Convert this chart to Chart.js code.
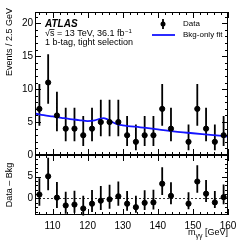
<!DOCTYPE html>
<html>
<head>
<meta charset="utf-8">
<script src="https://cdn.jsdelivr.net/npm/chart.js@4.4.1/dist/chart.umd.min.js"></script>
<style>
  body { margin: 0; background: #fff; }
  #wrap { position: relative; width: 240px; height: 240px; }
  canvas { position: absolute; left: 0; top: 0; }
</style>
</head>
<body>
<div id="wrap">
  <canvas id="main" width="240" height="240"></canvas>
  <canvas id="ratio" width="240" height="240"></canvas>
</div>
<script>
// m_yy bin centres (GeV), 2.5 GeV bins
const binCenters = [106.25, 108.75, 111.25, 113.75, 116.25, 118.75, 121.25, 123.75, 126.25, 128.75, 131.25,
                    133.75, 136.25, 138.75, 141.25, 143.75, 146.25, 148.75, 151.25, 153.75, 156.25, 158.75];
// observed events per bin (empty bin not drawn)
const events  = [7, 11, 6, 4, 4, 3, 4, 5, 5, 5, 3, 2, 3, 3, 7, 4, null, 2, 7, 4, 2, 3];
// poisson error bar ends
const errLow  = [4.42, 7.77, 3.62, 2.09, 2.09, 1.37, 2.09, 2.84, 2.84, 2.84, 1.37, 0.71, 1.37, 1.37, 4.42, 2.09, null, 0.71, 4.42, 2.09, 0.71, 1.37];
const errHigh = [10.77, 15.28, 9.58, 7.16, 7.16, 5.92, 7.16, 8.38, 8.38, 8.38, 5.92, 4.64, 5.92, 5.92, 10.77, 7.16, null, 4.64, 10.77, 7.16, 4.64, 5.92];
// Data - Bkg
const residuals = [0.9, 5.1, 0.2, -1.6, -1.4, -2.3, -1.2, -0.5, -0.2, 0.5, -1.2, -2.0, -1.0, -0.9, 3.4, 0.6, null, -1.2, 3.9, 1.1, -0.9, 0.3];
// bkg-only fit curve
const fitMass   = [105, 107.5, 110, 112.5, 115, 117.5, 120, 122, 123.5, 124.5, 125.5, 127, 128.5, 130, 135, 140, 145, 150, 155, 160];
const fitValues = [6.3, 6.05, 5.85, 5.65, 5.45, 5.3, 5.15, 5.25, 5.5, 5.6, 5.45, 5.0, 4.65, 4.5, 4.2, 3.9, 3.55, 3.3, 3.05, 2.8];

const xTicks = [110, 120, 130, 140, 150, 160];
const yTicksMain = [0, 5, 10, 15, 20];
const yTicksRatio = [0, 5];

const FONT = '"Liberation Sans", Arial, sans-serif';

function frameAndTicks(chart, cfg) {
  const { ctx, chartArea: a, scales: { x, y } } = chart;
  ctx.save();
  ctx.strokeStyle = '#000';
  ctx.lineWidth = 1;
  ctx.strokeRect(a.left + 0.5, a.top + 0.5, a.right - a.left - 1, a.bottom - a.top - 1);

  // x ticks, minor every 2 GeV
  ctx.beginPath();
  for (let v = 106; v <= 160; v += 2) {
    const px = Math.round(x.getPixelForValue(v)) + 0.5;
    const len = v % 10 === 0 ? 6 : 3;
    ctx.moveTo(px, a.bottom); ctx.lineTo(px, a.bottom - len);
    ctx.moveTo(px, a.top); ctx.lineTo(px, a.top + len);
  }
  // y ticks, minor every 1
  for (let v = Math.ceil(y.min); v <= y.max; v += 1) {
    const py = Math.round(y.getPixelForValue(v)) + 0.5;
    const len = v % 5 === 0 ? 6 : 3;
    ctx.moveTo(a.left, py); ctx.lineTo(a.left + len, py);
    ctx.moveTo(a.right, py); ctx.lineTo(a.right - len, py);
  }
  ctx.stroke();

  ctx.fillStyle = '#000';
  ctx.font = '10px ' + FONT;
  ctx.textAlign = 'right';
  ctx.textBaseline = 'middle';
  cfg.yTicks.forEach(v => ctx.fillText(String(v), a.left - 2, y.getPixelForValue(v)));
  ctx.restore();
}

function drawErrorBars(chart, centers, lo, hi) {
  const { ctx, scales: { x, y } } = chart;
  ctx.save();
  ctx.strokeStyle = '#000';
  ctx.lineWidth = 1.8;
  ctx.beginPath();
  centers.forEach((m, i) => {
    if (lo[i] === null) return;
    const px = x.getPixelForValue(m);
    ctx.moveTo(px, y.getPixelForValue(lo[i]));
    ctx.lineTo(px, y.getPixelForValue(hi[i]));
  });
  ctx.stroke();
  ctx.restore();
}

const mainPlugin = {
  id: 'mainDeco',
  beforeDatasetsDraw(chart) {
    drawErrorBars(chart, binCenters, errLow, errHigh);
  },
  afterDraw(chart) {
    frameAndTicks(chart, { yTicks: yTicksMain });
    const ctx = chart.ctx;
    ctx.save();
    ctx.fillStyle = '#000';
    ctx.textAlign = 'left';
    ctx.textBaseline = 'middle';
    ctx.font = 'italic bold 10px ' + FONT;
    ctx.fillText('ATLAS', 45, 24);
    ctx.font = '9px ' + FONT;
    ctx.fillText('\u221As = 13 TeV, 36.1 fb', 45, 34);
    const w1 = ctx.measureText('\u221A').width;
    const ws = ctx.measureText('s').width;
    ctx.fillRect(45 + w1, 29, ws, 0.8);
    const wAll = ctx.measureText('\u221As = 13 TeV, 36.1 fb').width;
    ctx.font = '6px ' + FONT;
    ctx.fillText('\u22121', 45 + wAll + 0.5, 31);
    ctx.font = '9px ' + FONT;
    ctx.fillText('1 b-tag, tight selection', 45, 43);

    // legend
    ctx.font = '8px ' + FONT;
    ctx.fillText('Data', 183, 24);
    ctx.fillText('Bkg-only fit', 183, 35);
    ctx.strokeStyle = '#000';
    ctx.lineWidth = 1.8;
    ctx.beginPath();
    ctx.moveTo(163, 19); ctx.lineTo(163, 29);
    ctx.stroke();
    ctx.beginPath();
    ctx.arc(163, 24, 2.5, 0, Math.PI * 2);
    ctx.fill();
    ctx.strokeStyle = '#1414ff';
    ctx.beginPath();
    ctx.moveTo(152, 35); ctx.lineTo(175, 35);
    ctx.stroke();

    // y title
    ctx.translate(10, 8);
    ctx.rotate(-Math.PI / 2);
    ctx.textAlign = 'right';
    ctx.font = '9px ' + FONT;
    ctx.fillText('Events / 2.5 GeV', 0, 0);
    ctx.restore();
  }
};

const ratioPlugin = {
  id: 'ratioDeco',
  beforeDatasetsDraw(chart) {
    const { ctx, chartArea: a, scales: { y } } = chart;
    ctx.save();
    ctx.strokeStyle = '#000';
    ctx.lineWidth = 0.8;
    ctx.setLineDash([2, 2]);
    const py = Math.round(y.getPixelForValue(0)) + 0.5;
    ctx.beginPath();
    ctx.moveTo(a.left, py); ctx.lineTo(a.right, py);
    ctx.stroke();
    ctx.restore();
    const lo = residuals.map((r, i) => r === null ? null : r - (events[i] - errLow[i]));
    const hi = residuals.map((r, i) => r === null ? null : r + (errHigh[i] - events[i]));
    drawErrorBars(chart, binCenters, lo, hi);
  },
  afterDraw(chart) {
    frameAndTicks(chart, { yTicks: yTicksRatio });
    const { ctx, chartArea: a, scales: { x } } = chart;
    ctx.save();
    ctx.fillStyle = '#000';
    ctx.font = '10px ' + FONT;
    ctx.textAlign = 'center';
    ctx.textBaseline = 'middle';
    xTicks.forEach(v => ctx.fillText(String(v), x.getPixelForValue(v), a.bottom + 11));

    // x title
    ctx.textAlign = 'left';
    ctx.textBaseline = 'alphabetic';
    const tail = ' [GeV]';
    ctx.font = '7px ' + FONT;
    const wSub = ctx.measureText('\u03B3\u03B3').width;
    ctx.font = '9px ' + FONT;
    const wM = ctx.measureText('m').width;
    const wT = ctx.measureText(tail).width;
    const x0 = a.right - wM - wSub - wT;
    ctx.fillText('m', x0, 235);
    ctx.font = '7px ' + FONT;
    ctx.fillText('\u03B3\u03B3', x0 + wM, 238);
    ctx.font = '9px ' + FONT;
    ctx.fillText(tail, x0 + wM + wSub, 235);

    // y title
    ctx.translate(10, 185);
    ctx.rotate(-Math.PI / 2);
    ctx.textAlign = 'center';
    ctx.textBaseline = 'middle';
    ctx.fillText('Data \u2013 Bkg', 0, 0);
    ctx.restore();
  }
};

const baseOptions = (padding, yMin, yMax) => ({
  responsive: false,
  animation: false,
  devicePixelRatio: 1,
  layout: { padding },
  plugins: { legend: { display: false }, tooltip: { enabled: false } },
  scales: {
    x: { type: 'linear', min: 105, max: 160, display: false },
    y: { type: 'linear', min: yMin, max: yMax, display: false }
  }
});

new Chart(document.getElementById('main'), {
  type: 'scatter',
  data: {
    datasets: [
      {
        type: 'line',
        data: fitMass.map((m, i) => ({ x: m, y: fitValues[i] })),
        borderColor: '#1414ff',
        borderWidth: 1.8,
        pointRadius: 0,
        cubicInterpolationMode: 'monotone',
        fill: false,
        order: 2
      },
      {
        data: binCenters.map((m, i) => ({ x: m, y: events[i] })),
        pointRadius: 2.6,
        backgroundColor: '#000',
        borderColor: '#000',
        order: 1
      }
    ]
  },
  options: baseOptions({ left: 35, right: 12, top: 12, bottom: 85 }, 0, 21.7),
  plugins: [mainPlugin]
});

new Chart(document.getElementById('ratio'), {
  type: 'scatter',
  data: {
    datasets: [
      {
        data: binCenters.map((m, i) => ({ x: m, y: residuals[i] })),
        pointRadius: 2.6,
        backgroundColor: '#000',
        borderColor: '#000'
      }
    ]
  },
  options: baseOptions({ left: 35, right: 12, top: 155, bottom: 25 }, -3.8, 10),
  plugins: [ratioPlugin]
});
</script>
</body>
</html>
